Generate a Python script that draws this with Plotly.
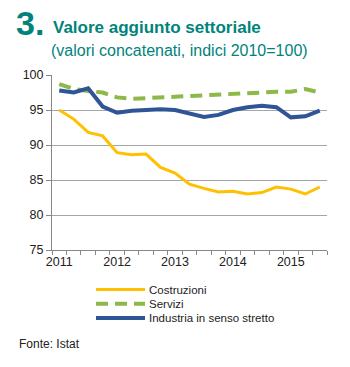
import plotly.graph_objects as go

quarters = [f"{y}T{q}" for y in range(2011, 2016) for q in range(1, 5)][:19]
year_labels = [q[:4] if q.endswith("T1") else "" for q in quarters]

costruzioni = [95.0, 93.7, 91.8, 91.3, 88.9, 88.6, 88.7, 86.8, 86.0, 84.4,
               83.8, 83.3, 83.4, 83.0, 83.2, 84.0, 83.7, 83.0, 84.0]
servizi = [98.7, 98.0, 97.7, 97.5, 96.8, 96.6, 96.7, 96.8, 97.0, 97.0,
           97.2, 97.2, 97.3, 97.5, 97.6, 97.6, 97.6, 98.0, 97.5]
industria = [97.8, 97.5, 98.1, 95.5, 94.6, 94.9, 95.0, 95.1, 95.0, 94.5,
             94.0, 94.3, 95.0, 95.4, 95.6, 95.4, 93.95, 94.1, 94.9]

names = ["Costruzioni", "Servizi", "Industria in senso stretto"]
series = [costruzioni, servizi, industria]
colors = ["#FFC000", "#8DB84A", "#2F5597"]
widths = [3, 4, 4]
dashes = ["solid", "12px,7px", "solid"]
y_ticks = [75, 80, 85, 90, 95, 100]

W, H = 350, 367
L, R, T, B = 52, 23, 75, 117
pw, ph = W - L - R, H - T - B

def px(x):
    return (x - L) / pw

def py(y):
    return (H - B - y) / ph

TEAL = "#00837B"
FONT = "Liberation Sans, Arial, sans-serif"

fig = go.Figure()
for n, s, c, w, d in zip(names, series, colors, widths, dashes):
    fig.add_trace(go.Scatter(x=quarters, y=s, mode="lines", name=n,
                             line=dict(color=c, width=w, dash=d),
                             showlegend=False))

shapes = []
annotations = []
for i, (n, c, w, d) in enumerate(zip(names, colors, widths, dashes)):
    yy = 289.5 + 14.2 * i
    shapes.append(dict(type="line", xref="paper", yref="paper",
                       x0=px(96), x1=px(145), y0=py(yy), y1=py(yy),
                       line=dict(color=c, width=w, dash=d)))
    annotations.append(dict(text=n, xref="paper", yref="paper", x=px(147), y=py(yy),
                            xanchor="left", yanchor="middle", showarrow=False,
                            font=dict(size=11.5, color="#222222", family=FONT)))

annotations += [
    dict(text="<b>3.</b>", xref="paper", yref="paper", x=px(14), y=py(23),
         xanchor="left", yanchor="middle", showarrow=False,
         font=dict(size=34, color=TEAL, family=FONT)),
    dict(text="<b>Valore aggiunto settoriale</b>", xref="paper", yref="paper",
         x=px(51), y=py(27), xanchor="left", yanchor="middle", showarrow=False,
         font=dict(size=17, color=TEAL, family=FONT)),
    dict(text="(valori concatenati, indici 2010=100)", xref="paper", yref="paper",
         x=px(49), y=py(50), xanchor="left", yanchor="middle", showarrow=False,
         font=dict(size=16, color=TEAL, family=FONT)),
    dict(text="Fonte: Istat", xref="paper", yref="paper", x=px(17), y=py(344),
         xanchor="left", yanchor="middle", showarrow=False,
         font=dict(size=12, color="#222222", family=FONT)),
]

fig.update_layout(
    width=W, height=H,
    margin=dict(l=L, r=R, t=T, b=B),
    paper_bgcolor="white", plot_bgcolor="white",
    shapes=shapes, annotations=annotations,
    font=dict(family=FONT, size=12, color="#222222"),
)
fig.update_xaxes(type="category", tickmode="array", tickvals=quarters, ticktext=year_labels,
                 tickson="boundaries", ticks="outside", ticklen=4, tickcolor="#888888",
                 tickangle=0, showgrid=False, showline=True, linecolor="#888888", linewidth=1,
                 range=[-0.5, len(quarters) - 0.5], tickfont=dict(size=12.5))
fig.update_yaxes(range=[75, 100], tickvals=y_ticks, ticks="outside", ticklen=5,
                 tickcolor="#888888", showgrid=True, gridcolor="#A6A6A6", gridwidth=1,
                 showline=True, linecolor="#888888", linewidth=1, zeroline=False,
                 tickfont=dict(size=12.5))

fig.write_html("out.html")
